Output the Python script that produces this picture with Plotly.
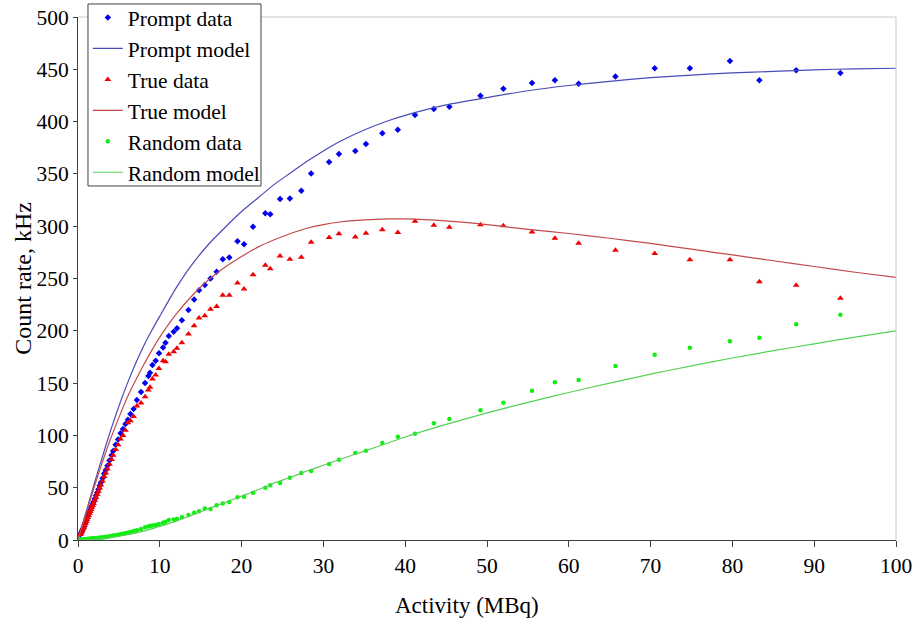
import plotly.graph_objects as go

# Measured activity (MBq) shared by the prompt, true and random series
activity = [93.2, 87.8, 83.3, 79.7, 74.8, 70.5, 65.7, 61.2, 58.3, 55.5,
            52.0, 49.2, 45.4, 43.5, 41.2, 39.1, 37.2, 35.2, 33.9, 31.9,
            30.7, 28.5, 27.3, 25.9, 24.7, 23.5, 22.9, 21.4, 20.3, 19.5,
            18.5, 17.7, 16.95, 16.2, 15.5, 14.8, 14.2, 13.5, 12.7, 12.1,
            11.7, 11.1, 10.7, 10.4, 9.9, 9.5, 9.1, 8.8, 8.6, 8.2,
            7.7, 7.2, 6.8, 6.4, 6.1, 5.8, 5.5, 5.2, 4.9, 4.6,
            4.3, 4.1, 3.85, 3.6, 3.4, 3.2, 3.0, 2.8, 2.65, 2.5,
            2.35, 2.2, 2.05, 1.9, 1.8, 1.7, 1.6, 1.5, 1.4, 1.3,
            1.2, 1.1, 1.0, 0.9, 0.8, 0.7, 0.6, 0.5, 0.4, 0.3]

prompt_data = [446.5, 449, 439.5, 458, 451, 451, 443, 436.3, 439.5, 436.9,
               431.5, 424.8, 414.3, 412, 406.3, 392.3, 388.8, 378.6, 372, 369,
               361.4, 350.5, 334, 326.5, 326, 311.5, 312.3, 299.5, 282.7, 285.5,
               270, 268.5, 256.5, 250, 243.7, 238.7, 230, 219.8, 210, 202.4,
               199.2, 195, 188.6, 184, 178.5, 171.4, 167.3, 160, 156.8, 150,
               141.5, 133.8, 125.2, 120.5, 115, 110.9, 106, 102, 96, 91,
               85, 81, 76, 71, 67, 63.5, 59, 55, 52, 48.5,
               45.5, 42.5, 39.5, 36.5, 34.5, 32.5, 30.5, 28.5, 26.5, 24.5,
               22.5, 20.5, 18.5, 16.5, 14.5, 12.5, 10.8, 9, 7.2, 5.4]

true_data = [231, 243.5, 247, 268, 268, 274, 277, 283.6, 288.4, 294.5,
             300.5, 301.5, 299, 300.8, 304.7, 294, 296.7, 293.2, 289.6, 292.7,
             289.2, 284.6, 270.2, 268.4, 271.6, 259.4, 262.6, 253.7, 240, 245.7,
             234, 234, 223.3, 220.5, 214.5, 212.3, 204.9, 196.9, 188.6, 183.2,
             180, 177.5, 170.5, 171.4, 164, 157.7, 154, 146, 143.5, 137,
             131, 128, 118, 114, 112, 105, 100, 96.5, 91, 86.5,
             81, 77, 72.5, 68, 64, 60.8, 56.5, 52.7, 49.8, 46.5,
             43.6, 40.7, 37.8, 34.9, 33, 31.1, 29.2, 27.3, 25.4, 23.5,
             21.6, 19.65, 17.7, 15.8, 13.9, 12, 10.35, 8.6, 6.9, 5.2]

random_data = [215.4, 206.2, 193.4, 190, 183.9, 177.2, 166.3, 153, 150.8, 142.8,
               131.3, 124, 115.7, 111.5, 101.6, 98.8, 92.7, 85.4, 83.2, 76.8,
               72.7, 66, 64.1, 59.6, 54.5, 52.3, 50, 45.2, 41.4, 40.8,
               36.3, 35, 33.2, 29.6, 30, 27.4, 26.1, 23.9, 21.7, 20.1,
               19.6, 19.1, 17.5, 16.5, 15.3, 14.3, 13.8, 13.4, 12.8, 12.1,
               10.5, 9.4, 8.5, 7.6, 7.0, 6.5, 6.0, 5.5, 5.1, 4.6,
               4.2, 3.8, 3.5, 3.2, 2.9, 2.7, 2.5, 2.3, 2.2, 2.0,
               1.9, 1.8, 1.7, 1.6, 1.5, 1.4, 1.3, 1.2, 1.1, 1.0,
               0.9, 0.85, 0.8, 0.7, 0.6, 0.5, 0.45, 0.4, 0.3, 0.2]

# Model curves sampled along the activity axis
model_activity = [0, 1, 2, 3, 4, 5, 6, 7, 8, 9, 10, 12, 14, 16, 18, 20, 22, 24,
                  26, 28, 30, 32, 35, 38, 40, 45, 50, 55, 60, 65, 70, 75, 80,
                  85, 90, 95, 100]

prompt_model = [0, 27, 54, 80, 105, 128, 149, 168, 185, 200, 214, 241, 264,
                283, 299, 314, 327, 340, 351, 362, 372, 381, 392, 401, 406,
                416, 423, 429.5, 434.5, 438.5, 442, 444.5, 446.5, 448, 449.5, 450.5, 451]

true_model = [0, 26, 51, 75, 97, 117, 136, 152, 167, 181, 194, 216, 234,
              249, 261, 271, 280, 287, 293, 298, 301.5, 304, 306, 307, 307,
              305, 301.5, 297, 293, 288.5, 283.5, 278, 272.5, 267, 261.5, 256, 251]

random_model = [0, 0.4, 0.8, 1.5, 2.5, 3.6, 5, 6.6, 8.5, 10.6, 13, 18, 24,
                30, 36, 42, 48, 54.5, 60, 66, 71.5, 77, 85, 93, 98.5,
                110.5, 121.5, 131.5, 141, 150, 158.5, 166.5, 174, 181, 187.5, 194, 200]

x_ticks = [0, 10, 20, 30, 40, 50, 60, 70, 80, 90, 100]
y_ticks = [0, 50, 100, 150, 200, 250, 300, 350, 400, 450, 500]

SERIF = "Liberation Serif, Times New Roman, serif"

fig = go.Figure()

fig.add_trace(go.Scatter(
    x=activity, y=prompt_data, mode="markers", name="Prompt data",
    marker=dict(symbol="diamond", size=5, color="#0000ee"),
))
fig.add_trace(go.Scatter(
    x=model_activity, y=prompt_model, mode="lines", name="Prompt model",
    line=dict(color="#4a4ab8", width=1.2, shape="spline", smoothing=0.6),
))
fig.add_trace(go.Scatter(
    x=activity, y=true_data, mode="markers", name="True data",
    marker=dict(symbol="triangle-up", size=6, color="#ee0000"),
))
fig.add_trace(go.Scatter(
    x=model_activity, y=true_model, mode="lines", name="True model",
    line=dict(color="#c44a4a", width=1.2, shape="spline", smoothing=0.6),
))
fig.add_trace(go.Scatter(
    x=activity, y=random_data, mode="markers", name="Random data",
    marker=dict(symbol="circle", size=4.5, color="#11ee11"),
))
fig.add_trace(go.Scatter(
    x=model_activity, y=random_model, mode="lines", name="Random model",
    line=dict(color="#55d055", width=1.2, shape="spline", smoothing=0.6),
))

# light frame on the top and right edges of the plotting area
fig.add_shape(type="line", xref="paper", yref="paper", x0=0, x1=1, y0=1, y1=1,
              line=dict(color="#c8c8c8", width=1))
fig.add_shape(type="line", xref="paper", yref="paper", x0=1, x1=1, y0=0, y1=1,
              line=dict(color="#c8c8c8", width=1))

# white boxed panel behind the legend entries
fig.add_shape(type="rect", xref="paper", yref="paper", layer="above",
              x0=0.0122, x1=0.2237, y0=0.6769, y1=1.0249,
              fillcolor="white", line=dict(color="#404040", width=1))

# axis titles
fig.add_annotation(text="Activity (MBq)", xref="paper", yref="paper",
                   x=0.4756, y=-0.1243, xanchor="center", yanchor="middle",
                   showarrow=False, font=dict(family=SERIF, size=23, color="black"))
fig.add_annotation(text="Count rate, kHz", xref="paper", yref="paper",
                   x=-0.0675, y=0.501, xanchor="center", yanchor="middle",
                   textangle=-90, showarrow=False,
                   font=dict(family=SERIF, size=24, color="black"))

fig.update_layout(
    width=915, height=621,
    margin=dict(l=78, r=19, t=17, b=81, autoexpand=False),
    paper_bgcolor="white", plot_bgcolor="white",
    font=dict(family=SERIF, size=21, color="black"),
    showlegend=True,
    legend=dict(
        x=0.012, y=1.0382, xanchor="left", yanchor="top",
        bgcolor="rgba(0,0,0,0)", borderwidth=0,
        font=dict(family=SERIF, size=21.5, color="black"),
        itemwidth=30, tracegroupgap=0,
    ),
    xaxis=dict(
        range=[0, 100], tickvals=x_ticks, ticktext=[str(v) for v in x_ticks],
        showgrid=False, zeroline=False, showline=True, linecolor="#404040",
        linewidth=1, ticks="outside", ticklen=6, tickcolor="#404040",
        tickfont=dict(family=SERIF, size=21.5),
    ),
    yaxis=dict(
        range=[0, 500], tickvals=y_ticks, ticktext=[str(v) for v in y_ticks],
        showgrid=False, zeroline=False, showline=True, linecolor="#404040",
        linewidth=1, ticks="outside", ticklen=4, tickcolor="#404040",
        tickfont=dict(family=SERIF, size=21.5),
    ),
)

fig.write_html("out.html")
